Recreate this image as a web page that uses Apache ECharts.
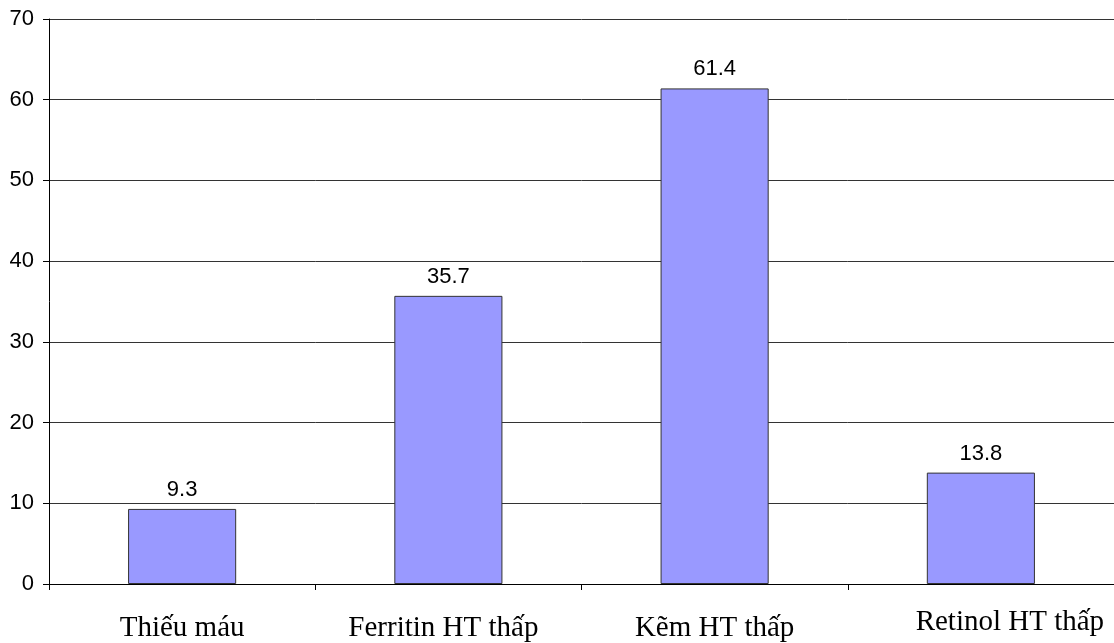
<!DOCTYPE html>
<html>
<head>
<meta charset="utf-8">
<script src="https://cdn.jsdelivr.net/npm/echarts@6/dist/echarts.min.js"></script>
<style>
  html, body { margin: 0; padding: 0; background: #fff; }
  #chart { width: 1114px; height: 643px; }
</style>
</head>
<body>
<div id="chart"></div>
<script>
// Tỷ lệ thiếu vi chất (%)
const categories = ['Thiếu máu', 'Ferritin HT thấp', 'Kẽm HT thấp', 'Retinol HT thấp'];
const values = [9.3, 35.7, 61.4, 13.8];
const yTicks = { min: 0, max: 70, interval: 10 };

// per-label nudges for the category captions
const labelPadding = [[6, 0, 0, 0], [6, 10, 0, 0], [6, 0, 0, 0], [0, 0, 0, 58]];

const chart = echarts.init(document.getElementById('chart'), null, { renderer: 'canvas' });

chart.setOption({
  animation: false,
  backgroundColor: '#ffffff',
  grid: { left: 49, right: 0, top: 19, bottom: 59, containLabel: false },
  xAxis: {
    type: 'category',
    data: categories.map((c, i) => ({ value: c, textStyle: { padding: labelPadding[i] } })),
    axisLine: { lineStyle: { color: '#000', width: 1 } },
    axisTick: { show: true, alignWithLabel: false, length: 6, lineStyle: { color: '#000' } },
    axisLabel: {
      fontFamily: '"Liberation Serif", "Times New Roman", serif',
      fontSize: 29,
      color: '#000',
      margin: 24,
      interval: 0
    }
  },
  yAxis: {
    type: 'value',
    min: yTicks.min,
    max: yTicks.max,
    interval: yTicks.interval,
    axisLine: { show: true, lineStyle: { color: '#000', width: 1 } },
    axisTick: { show: true, length: 6, lineStyle: { color: '#000' } },
    splitLine: { show: true, lineStyle: { color: '#333', width: 1 } },
    axisLabel: {
      fontFamily: '"Liberation Sans", Arial, sans-serif',
      fontSize: 22,
      color: '#000',
      margin: 15
    }
  },
  series: [{
    type: 'bar',
    data: values,
    barWidth: '40.6%',
    itemStyle: { color: '#9999ff', borderColor: '#333', borderWidth: 1 },
    label: {
      show: true,
      position: 'top',
      distance: 8,
      fontFamily: '"Liberation Sans", Arial, sans-serif',
      fontSize: 22,
      color: '#000',
      formatter: p => p.value.toFixed(1)
    }
  }]
});
</script>
</body>
</html>
